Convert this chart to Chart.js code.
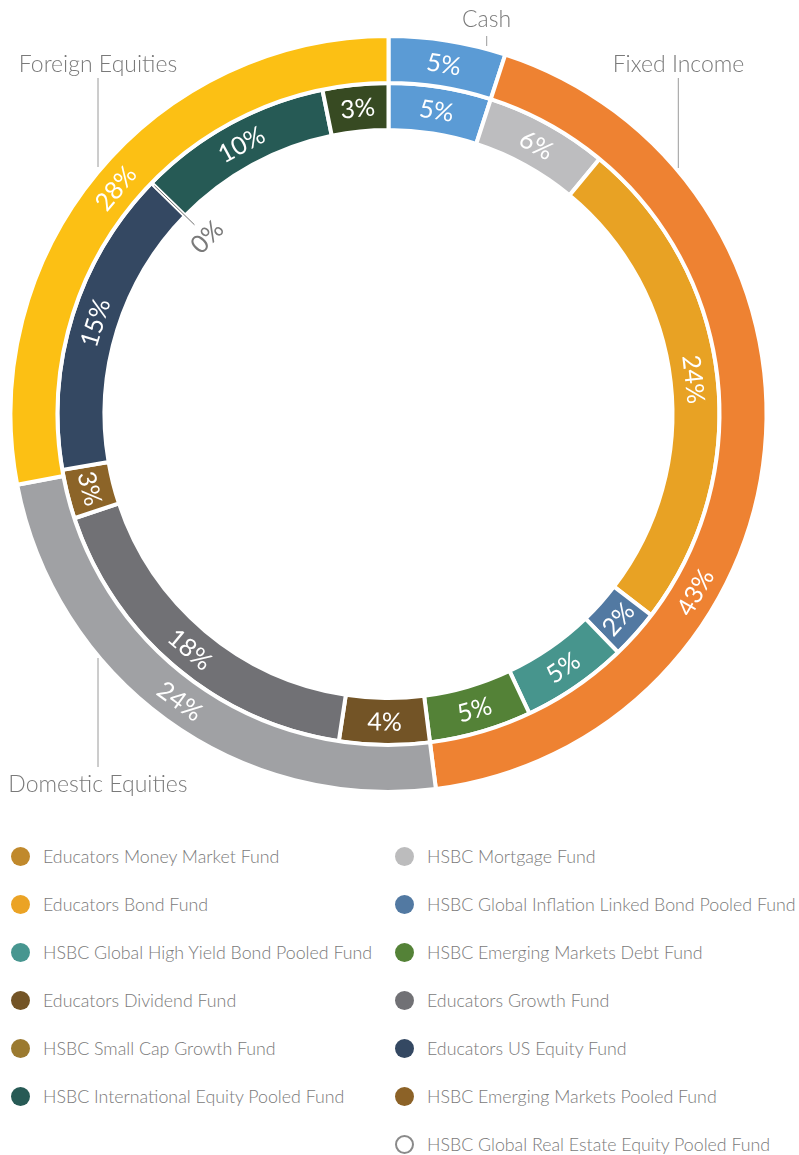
<!DOCTYPE html>
<html><head><meta charset="utf-8">
<script src="https://cdn.jsdelivr.net/npm/chart.js@4/dist/chart.umd.min.js"></script>
<style>
html,body{margin:0;padding:0;background:#fff;}
body{width:799px;height:1155px;position:relative;overflow:hidden;font-family:Lato,'Open Sans',sans-serif;}
#wrap{position:absolute;left:0;top:0;width:777px;height:828px;}
.li{position:absolute;height:24px;display:flex;align-items:center;font-size:17.8px;color:#7a7a7a;font-weight:300;white-space:nowrap;}
.dot{width:19px;height:19px;border-radius:50%;margin-right:13.5px;box-sizing:border-box;flex:none}
</style></head>
<body>
<div id="wrap"><canvas id="c"></canvas></div>
<div id="legend"></div>
<script>
// ---- data ----
const outerCategories = ['Cash', 'Fixed Income', 'Domestic Equities', 'Foreign Equities'];
const outerValues = [5, 43, 24, 28];
const outerColors = ['#5b9bd5', '#ee8232', '#a0a1a4', '#fcc014'];

const innerFunds = [
  'Educators Money Market Fund', 'HSBC Mortgage Fund', 'Educators Bond Fund',
  'HSBC Global Inflation Linked Bond Pooled Fund', 'HSBC Global High Yield Bond Pooled Fund',
  'HSBC Emerging Markets Debt Fund', 'Educators Dividend Fund', 'Educators Growth Fund',
  'HSBC Small Cap Growth Fund', 'Educators US Equity Fund',
  'HSBC Global Real Estate Equity Pooled Fund', 'HSBC International Equity Pooled Fund',
  'HSBC Emerging Markets Pooled Fund'
];
const innerValues = [5, 6, 24.4, 2.4, 5.2, 5, 4.4, 17.5, 2.4, 15, 0, 9.5, 3.2];
const innerPctLabels = ['5%', '6%', '24%', '2%', '5%', '5%', '4%', '18%', '3%', '15%', '0%', '10%', '3%'];
const innerColors = ['#5b9bd5', '#bdbdbf', '#e8a224', '#5279a2', '#47958d', '#548237', '#735426',
  '#717175', '#8c6428', '#344862', '#ffffff', '#265a55', '#374a22'];

const legendLeft = ['Educators Money Market Fund', 'Educators Bond Fund', 'HSBC Global High Yield Bond Pooled Fund',
  'Educators Dividend Fund', 'HSBC Small Cap Growth Fund', 'HSBC International Equity Pooled Fund'];
const legendLeftColors = ['#c0892c', '#eba325', '#479690', '#735426', '#9b7a30', '#275a55'];
const legendRight = ['HSBC Mortgage Fund', 'HSBC Global Inflation Linked Bond Pooled Fund', 'HSBC Emerging Markets Debt Fund',
  'Educators Growth Fund', 'Educators US Equity Fund', 'HSBC Emerging Markets Pooled Fund',
  'HSBC Global Real Estate Equity Pooled Fund'];
const legendRightColors = ['#bcbcbd', '#5279a2', '#548237', '#717175', '#344862', '#8c6227', null];

// ---- styling / layout ----
const outerLabelAnchor = [0.5, 0.66, 0.5, 0.5];
const callouts = [
  {text: outerCategories[0], x: 486.5, y: 27, line: [486.7, 36, 46]},
  {text: outerCategories[1], x: 678.5, y: 72, line: [678.3, 78, 168]},
  {text: outerCategories[2], x: 98, y: 792, line: [98, 658, 767]},
  {text: outerCategories[3], x: 98, y: 72, line: [98, 78, 167]}
];
const FONT = 'Lato, "Open Sans", sans-serif';

const arcLabels = {
  id: 'arcLabels',
  afterDatasetsDraw(chart) {
    const ctx = chart.ctx;
    ctx.save();
    chart.data.datasets.forEach((ds, di) => {
      const meta = chart.getDatasetMeta(di);
      meta.data.forEach((arc, i) => {
        const p = arc.getProps(['x', 'y', 'startAngle', 'endAngle', 'innerRadius', 'outerRadius'], true);
        const text = ds.pctLabels[i];
        const zero = (p.endAngle - p.startAngle) < 1e-6;
        const f = ds.anchor ? ds.anchor[i] : 0.5;
        const a = p.startAngle + (p.endAngle - p.startAngle) * f;
        let th = a + Math.PI / 2;
        th = ((th % (2 * Math.PI)) + 2 * Math.PI) % (2 * Math.PI);
        let rot = (th > Math.PI / 2 && th < 3 * Math.PI / 2) ? th - Math.PI : th;
        let r, color;
        if (zero) {
          const r1 = p.outerRadius - 4, r2 = p.innerRadius - 13;
          ctx.strokeStyle = '#6f6f6f';
          ctx.lineWidth = 1;
          ctx.beginPath();
          ctx.moveTo(p.x + r1 * Math.cos(a), p.y + r1 * Math.sin(a));
          ctx.lineTo(p.x + r2 * Math.cos(a), p.y + r2 * Math.sin(a));
          ctx.stroke();
          r = p.innerRadius - 30;
          color = '#7a7a7a';
        } else {
          r = (p.innerRadius + p.outerRadius) / 2;
          color = '#ffffff';
        }
        ctx.save();
        ctx.translate(p.x + r * Math.cos(a), p.y + r * Math.sin(a));
        ctx.rotate(rot);
        ctx.font = '400 25px ' + FONT;
        ctx.fillStyle = color;
        ctx.textAlign = 'center';
        ctx.textBaseline = 'middle';
        ctx.fillText(text, 0, 1);
        ctx.restore();
      });
    });
    // category callouts
    ctx.font = '300 23px ' + FONT;
    ctx.fillStyle = '#7a7a7a';
    ctx.strokeStyle = '#9a9a9a';
    ctx.lineWidth = 1;
    ctx.textAlign = 'center';
    ctx.textBaseline = 'alphabetic';
    callouts.forEach(c => {
      ctx.fillText(c.text, c.x, c.y);
      ctx.beginPath();
      ctx.moveTo(c.line[0], c.line[1]);
      ctx.lineTo(c.line[0], c.line[2]);
      ctx.stroke();
    });
    ctx.restore();
  }
};

new Chart(document.getElementById('c'), {
  type: 'doughnut',
  data: {
    labels: innerFunds,
    datasets: [
      {label: 'Asset class', data: outerValues, backgroundColor: outerColors,
       pctLabels: outerValues.map(v => v + '%'), anchor: outerLabelAnchor},
      {label: 'Fund', data: innerValues, backgroundColor: innerColors, pctLabels: innerPctLabels}
    ]
  },
  options: {
    responsive: true,
    maintainAspectRatio: false,
    animation: false,
    radius: 378,
    cutout: '75.13%',
    borderWidth: 4,
    borderColor: '#ffffff',
    layout: {padding: 0},
    plugins: {legend: {display: false}, tooltip: {enabled: false}}
  },
  plugins: [arcLabels]
});

// ---- HTML legend ----
const lg = document.getElementById('legend');
function addItem(name, color, x, cy) {
  const d = document.createElement('div');
  d.className = 'li';
  d.style.left = x + 'px';
  d.style.top = (cy - 12) + 'px';
  const dot = document.createElement('span');
  dot.className = 'dot';
  if (color) dot.style.background = color;
  else { dot.style.border = '2.5px solid #8a8a8a'; dot.style.background = '#fff'; }
  const t = document.createElement('span');
  t.textContent = name;
  d.appendChild(dot); d.appendChild(t);
  lg.appendChild(d);
}
legendLeft.forEach((n, i) => addItem(n, legendLeftColors[i], 10.5, 856 + 48 * i));
legendRight.forEach((n, i) => addItem(n, legendRightColors[i], 394.5, 856 + 48 * i));
</script>
</body></html>
